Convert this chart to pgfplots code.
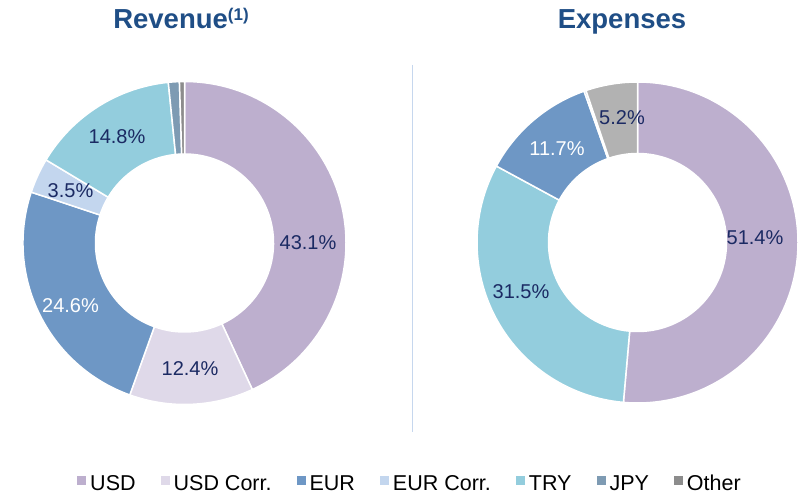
\documentclass[border=0pt]{standalone}
\usepackage{fontspec}
\setmainfont{Liberation Sans}
\usepackage{pgfplots}
\usepackage{pgfplotstable}
\pgfplotsset{compat=1.18}

\definecolor{cUSD}{HTML}{BDAFCE}
\definecolor{cUSDC}{HTML}{DFD9E9}
\definecolor{cEUR}{HTML}{6E97C5}
\definecolor{cEURC}{HTML}{C3D6EE}
\definecolor{cTRY}{HTML}{93CDDD}
\definecolor{cJPY}{HTML}{7E9BB3}
\definecolor{cOther}{HTML}{8C8C8C}
\definecolor{cOtherE}{HTML}{B2B2B2}
\definecolor{cTitle}{HTML}{1F4E86}
\definecolor{cLab}{HTML}{1B2A63}
\definecolor{cSep}{HTML}{C6D7EE}

\pgfplotstableread{
share col
43.1 cUSD
12.4 cUSDC
24.6 cEUR
3.5 cEURC
14.8 cTRY
1.1 cJPY
0.5 cOther
}\revtable
\pgfplotstableread{
share col
51.4 cUSD
31.5 cTRY
11.7 cEUR
0.2 cEUR
5.2 cOtherE
}\exptable

\newcommand{\donut}[5]{%
 \pgfplotstablegetrowsof{#1}\pgfmathtruncatemacro\nrows{\pgfplotsretval-1}%
 \def\angA{90}%
 \pgfplotsforeachungrouped \i in {0,...,\nrows}{%
   \pgfplotstablegetelem{\i}{share}\of{#1}\let\sh\pgfplotsretval
   \pgfplotstablegetelem{\i}{col}\of{#1}\let\cl\pgfplotsretval
   \pgfmathsetmacro\angB{\angA-3.6*\sh}%
   \edef\tmp{\noexpand\fill[\cl, draw=white, line width=1.5pt, line join=round]
     ([shift={(\angA:#5pt)}]axis cs:#2,#3) arc[start angle=\angA, end angle=\angB, radius=#5pt]
     -- ([shift={(\angB:#4pt)}]axis cs:#2,#3) arc[start angle=\angB, end angle=\angA, radius=#4pt] -- cycle;}%
   \tmp
   \global\let\angA\angB
 }%
}

\begin{document}
\begin{tikzpicture}
\begin{axis}[
 width=798pt, height=495pt, scale only axis,
 xmin=0, xmax=798, ymin=0, ymax=495, y dir=reverse,
 hide axis, clip=false,
 legend image code/.code={\fill[#1] (0pt,5pt) rectangle (9pt,14pt);},
 legend style={at={(axis cs:410,483)}, anchor=center, draw=none, fill=none,
   legend columns=-1, font=\fontsize{21.5}{24}\selectfont, inner sep=0pt,
   cells={anchor=base west},
   /tikz/every odd column/.append style={column sep=2pt},
   /tikz/every even column/.append style={column sep=23pt}},
]
\addlegendimage{fill=cUSD, draw=none}\addlegendentry{USD}
\addlegendimage{fill=cUSDC, draw=none}\addlegendentry{USD Corr.}
\addlegendimage{fill=cEUR, draw=none}\addlegendentry{EUR}
\addlegendimage{fill=cEURC, draw=none}\addlegendentry{EUR Corr.}
\addlegendimage{fill=cTRY, draw=none}\addlegendentry{TRY}
\addlegendimage{fill=cJPY, draw=none}\addlegendentry{JPY}
\addlegendimage{fill=cOther, draw=none}\addlegendentry{Other}

\donut{\revtable}{184.5}{243}{89}{161.5}
\donut{\exptable}{637.5}{242.5}{89}{160.5}

\draw[cSep, line width=1.3pt] (axis cs:412.5,65) -- (axis cs:412.5,432);

\node[anchor=base, font=\bfseries\fontsize{27.5}{30}\selectfont, text=cTitle] at (axis cs:181,29) {Revenue\raisebox{8pt}{\fontsize{17}{17}\selectfont(1)}};
\node[anchor=base, font=\bfseries\fontsize{27.5}{30}\selectfont, text=cTitle] at (axis cs:622,29) {Expenses};

\begin{scope}[every node/.style={font=\fontsize{20}{24}\selectfont, text=cLab, inner sep=0pt}]
\node at (axis cs:308,243) {43.1\%};
\node at (axis cs:190,369) {12.4\%};
\node[text=white] at (axis cs:70.5,305.5) {24.6\%};
\node at (axis cs:70.5,190.5) {3.5\%};
\node at (axis cs:117,137) {14.8\%};
\node at (axis cs:755,238) {51.4\%};
\node at (axis cs:521,292) {31.5\%};
\node[text=white] at (axis cs:557,149) {11.7\%};
\node at (axis cs:622,118) {5.2\%};
\end{scope}
\end{axis}
\pgfresetboundingbox
\path (current axis.south west) rectangle (current axis.north east);
\end{tikzpicture}
\end{document}
